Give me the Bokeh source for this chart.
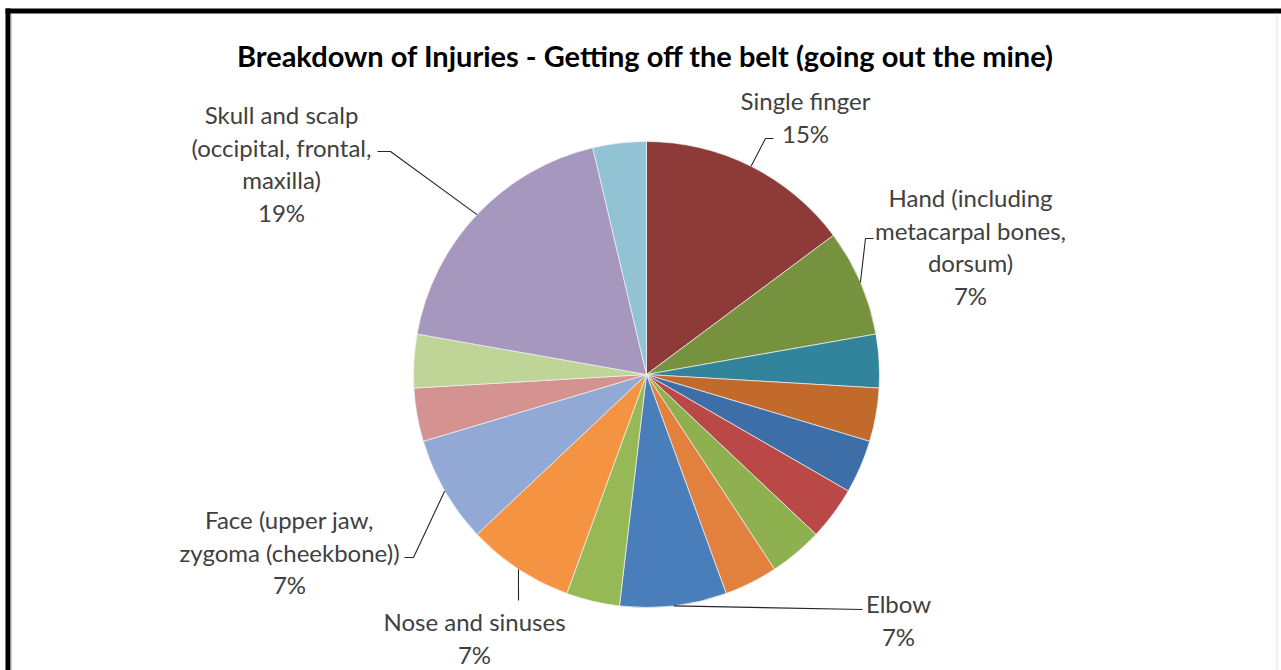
import math
from bokeh.plotting import figure
from bokeh.models import Range1d, ColumnDataSource
from bokeh.embed import file_html
from bokeh.resources import INLINE
from bokeh.core.properties import value

W, H = 1281, 670

title_text = "Breakdown of Injuries - Getting off the belt (going out the mine)"

categories = [
    "Single finger",
    "Hand (including metacarpal bones, dorsum)",
    "Unlabeled A", "Unlabeled B", "Unlabeled C", "Unlabeled D",
    "Unlabeled E", "Unlabeled F",
    "Elbow",
    "Unlabeled G",
    "Nose and sinuses",
    "Face (upper jaw, zygoma (cheekbone))",
    "Unlabeled H", "Unlabeled I",
    "Skull and scalp (occipital, frontal, maxilla)",
    "Unlabeled J",
]
counts = [4, 2, 1, 1, 1, 1, 1, 1, 2, 1, 2, 2, 1, 1, 5, 1]
colors = [
    "#8E3A38", "#77923E", "#31849B", "#C26A2C", "#3E6EA8", "#B94846",
    "#8FB04F", "#E2803D", "#4A7EBB", "#97B955", "#F49342", "#91A9D4",
    "#D49291", "#BFD598", "#A697BE", "#92C3D5",
]
# label text lines shown (slice index -> lines); percent added from data
label_lines = {
    0: ["Single finger"],
    1: ["Hand (including", "metacarpal bones,", "dorsum)"],
    8: ["Elbow"],
    10: ["Nose and sinuses"],
    11: ["Face (upper jaw,", "zygoma (cheekbone))"],
    14: ["Skull and scalp", "(occipital, frontal,", "maxilla)"],
}

# ---- layout (pixel coords, y down) ----
CX, CY, R = 646, 374, 233
label_pos = {   # center x, first-line y
    0: (805, 100),
    1: (970, 197),
    8: (898, 603),
    10: (474, 621),
    11: (289, 519),
    14: (281, 114),
}
LINE_GAP = 32.5
leader_pts = {  # intermediate points after pie edge
    0: [(765, 138), (773, 138)],
    1: [(865, 238), (873, 238)],
    8: [(862, 609)],
    10: [(518, 600)],
    11: [(413, 557), (404, 557)],
    14: [(390, 151), (377, 151)],
}

def Y(y):
    return H - y

total = sum(counts)
starts, ends, mids = [], [], []
cum = 0
for c in counts:
    a0 = math.pi / 2 - cum / total * 2 * math.pi
    a1 = math.pi / 2 - (cum + c) / total * 2 * math.pi
    starts.append(a0)
    ends.append(a1)
    mids.append((a0 + a1) / 2)
    cum += c

p = figure(width=W, height=H, x_range=Range1d(0, W), y_range=Range1d(0, H),
           output_backend="svg", toolbar_location=None, min_border=0,
           x_axis_type=None, y_axis_type=None)
p.grid.visible = False
p.outline_line_color = None
p.background_fill_color = "white"
p.border_fill_color = "white"

src = ColumnDataSource(dict(start=starts, end=ends, color=colors, cat=categories, n=counts))
p.wedge(x=CX, y=Y(CY), radius=R, start_angle="start", end_angle="end",
        direction="clock", fill_color="color", line_color="#F2F2F2",
        line_width=0.7, source=src)

# leaders
xs, ys = [], []
for i, pts in leader_pts.items():
    ex = CX + R * math.cos(mids[i])
    ey = CY - R * math.sin(mids[i])
    px = [ex] + [q[0] for q in pts]
    py = [Y(ey)] + [Y(q[1]) for q in pts]
    xs.append(px)
    ys.append(py)
p.multi_line(xs, ys, line_color="#262626", line_width=1.1)

# labels
tx, ty, tt = [], [], []
for i, lines in label_lines.items():
    pct = f"{round(100 * counts[i] / total)}%"
    allines = lines + [pct]
    x0, y0 = label_pos[i]
    for k, s in enumerate(allines):
        tx.append(x0)
        ty.append(Y(y0 + k * LINE_GAP))
        tt.append(s)
p.text(tx, ty, text=tt, text_font=value("Lato"), text_font_size="24px",
       text_align="center", text_baseline="middle", text_color="#404040")

# title
p.text([645], [Y(55)], text=[title_text], text_font=value("Lato"),
       text_font_size="29px", text_font_style="bold", text_align="center",
       text_baseline="middle", text_color="#000000")

# frame border (screenshot edges)
p.quad(left=[5], right=[W], top=[Y(8)], bottom=[Y(13)], fill_color="black", line_color=None)
p.quad(left=[5], right=[10], top=[Y(8)], bottom=[0], fill_color="black", line_color=None)
p.segment(x0=[10.5], y0=[Y(13)], x1=[10.5], y1=[0], line_color="#A0A0A0", line_width=1)
p.segment(x0=[1276.5], y0=[Y(13)], x1=[1276.5], y1=[0], line_color="#E0E0E0", line_width=1)

open("out.html", "w").write(file_html(p, INLINE))
